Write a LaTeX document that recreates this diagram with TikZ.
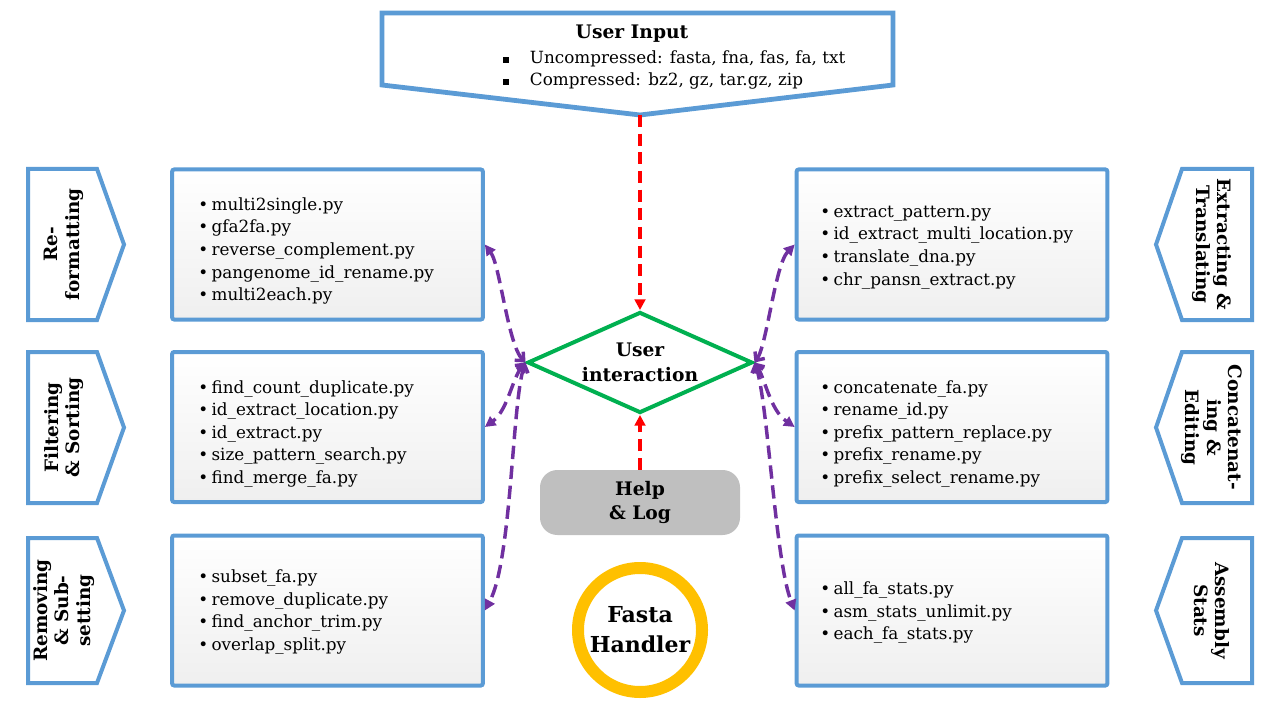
\documentclass[tikz,border=0pt]{standalone}
\usepackage{fontspec}
\setmainfont{DejaVu Serif}
\usetikzlibrary{shapes.geometric,arrows.meta}

\definecolor{edgeblue}{HTML}{5B9BD5}
\definecolor{boxgray}{HTML}{EFEFEF}
\definecolor{dmgreen}{HTML}{00B050}
\definecolor{flowred}{HTML}{FF0000}
\definecolor{flowpurple}{HTML}{7030A0}
\definecolor{ringgold}{HTML}{FFC000}
\definecolor{helpgray}{HTML}{BFBFBF}

\newcommand{\scriptitem}[1]{\makebox[10pt][l]{\textbullet}#1}
\newcommand{\squareitem}[1]{\makebox[20pt][l]{\rule[0.5pt]{4.5pt}{4.5pt}}#1}

\begin{document}
\begin{tikzpicture}[x=0.75pt,y=-0.75pt,
  scriptbox/.style={draw=edgeblue, line width=3pt, rounded corners=1.5pt,
    top color=white, bottom color=boxgray,
    minimum width=233pt, minimum height=112.5pt, inner sep=0pt},
  listtext/.style={anchor=west, align=left, inner sep=0pt,
    font=\fontsize{12.6}{16.9}\selectfont},
  tagshape/.style={draw=edgeblue, line width=3pt, fill=white, line join=miter},
  tagtext/.style={align=center, inner sep=0pt,
    font=\fontsize{13.8}{16}\selectfont\bfseries},
  redflow/.style={draw=flowred, line width=3pt, dash pattern=on 9pt off 5pt,
    -{Triangle[length=8pt,width=8pt]}},
  purpleflow/.style={draw=flowpurple, line width=2.6pt, dash pattern=on 10pt off 5pt,
    {Straight Barb[length=5pt,width=9pt]}-{Triangle[length=8pt,width=8pt]}},
  boldtext/.style={align=center, inner sep=0pt,
    font=\fontsize{14}{18.5}\selectfont\bfseries}
]
\useasboundingbox (0,0) rectangle (1280,720);

% input block: a downward pointing banner
\draw[draw=edgeblue, line width=3.6pt, fill=white, line join=miter]
  (382,13) -- (893,13) -- (893,85) -- (640,115) -- (382,85) -- cycle;
\coordinate (uiapex) at (640,115);
\node[boldtext] (uititle) at (632,34) {User Input};
\node[listtext, font=\fontsize{12.6}{16.5}\selectfont] (uilist) at (503,70)
  {\squareitem{Uncompressed: fasta, fna, fas, fa, txt}\\
   \squareitem{Compressed: bz2, gz, tar.gz, zip}};

% central decision
\node[diamond, aspect=2.2, draw=dmgreen, line width=3pt, inner sep=0pt,
  minimum width=168.75pt, minimum height=75.75pt, boldtext] (dm) at (640,362.5)
  {User\\interaction};

% help and logging
\node[fill=helpgray, rounded corners=13pt, minimum width=150pt,
  minimum height=48.75pt, boldtext] (help) at (640,502.5) {Help\\\& Log};

% title ring
\node[circle, draw=ringgold, line width=9pt, minimum size=93pt, inner sep=0pt,
  align=center, font=\fontsize{16.5}{22.5}\selectfont\bfseries] (fh) at (640,630)
  {Fasta\\Handler};

% script boxes, left column
\node[scriptbox] (l1) at (327.5,244.5) {};
\node[scriptbox] (l2) at (327.5,427) {};
\node[scriptbox] (l3) at (327.5,610.5) {};
% script boxes, right column
\node[scriptbox] (r1) at (952,244.5) {};
\node[scriptbox] (r2) at (952,427) {};
\node[scriptbox] (r3) at (952,610.5) {};

\node[listtext] (l1t) at (198,251)
  {\scriptitem{multi2single.py}\\
   \scriptitem{gfa2fa.py}\\
   \scriptitem{reverse\_complement.py}\\
   \scriptitem{pangenome\_id\_rename.py}\\
   \scriptitem{multi2each.py}};
\node[listtext] (l2t) at (198,434)
  {\scriptitem{find\_count\_duplicate.py}\\
   \scriptitem{id\_extract\_location.py}\\
   \scriptitem{id\_extract.py}\\
   \scriptitem{size\_pattern\_search.py}\\
   \scriptitem{find\_merge\_fa.py}};
\node[listtext] (l3t) at (198,612)
  {\scriptitem{subset\_fa.py}\\
   \scriptitem{remove\_duplicate.py}\\
   \scriptitem{find\_anchor\_trim.py}\\
   \scriptitem{overlap\_split.py}};
\node[listtext] (r1t) at (820,247.5)
  {\scriptitem{extract\_pattern.py}\\
   \scriptitem{id\_extract\_multi\_location.py}\\
   \scriptitem{translate\_dna.py}\\
   \scriptitem{chr\_pansn\_extract.py}};
\node[listtext] (r2t) at (820,434)
  {\scriptitem{concatenate\_fa.py}\\
   \scriptitem{rename\_id.py}\\
   \scriptitem{prefix\_pattern\_replace.py}\\
   \scriptitem{prefix\_rename.py}\\
   \scriptitem{prefix\_select\_rename.py}};
\node[listtext] (r3t) at (820,613)
  {\scriptitem{all\_fa\_stats.py}\\
   \scriptitem{asm\_stats\_unlimit.py}\\
   \scriptitem{each\_fa\_stats.py}};

% category tags, left (pointing right)
\draw[tagshape] (28,169) -- (97,169) -- (124,244.5) -- (97,320) -- (28,320) -- cycle;
\draw[tagshape] (28,352) -- (97,352) -- (124,427.5) -- (97,503) -- (28,503) -- cycle;
\draw[tagshape] (28,538) -- (97,538) -- (124,610.5) -- (97,683) -- (28,683) -- cycle;
\node[tagtext, rotate=90] (lt1) at (64,244.5) {Re-\\formatting};
\node[tagtext, rotate=90] (lt2) at (64,427.5) {Filtering\\\& Sorting};
\node[tagtext, rotate=90] (lt3) at (64,610.5) {Removing\\\& Sub-\\setting};

% category tags, right (pointing left)
\draw[tagshape] (1252,169) -- (1182,169) -- (1156,244.5) -- (1182,320) -- (1252,320) -- cycle;
\draw[tagshape] (1252,352) -- (1182,352) -- (1156,427.5) -- (1182,503) -- (1252,503) -- cycle;
\draw[tagshape] (1252,538) -- (1182,538) -- (1156,610.5) -- (1182,683) -- (1252,683) -- cycle;
\node[tagtext, rotate=-90] (rt1) at (1212,244.5) {Extracting \&\\Translating};
\node[tagtext, rotate=-90] (rt2) at (1212,427.5) {Concatenat-\\ing \&\\Editing};
\node[tagtext, rotate=-90] (rt3) at (1212,610.5) {Assembly\\Stats};

% main flow
\draw[redflow] (uiapex) -- (dm.north);
\draw[redflow] (help.north) -- (dm.south);

% links between the decision and the script groups
\draw[purpleflow] (dm.west) .. controls (508,345) and (500,265) .. (l1.east);
\draw[purpleflow] (dm.west) .. controls (512,378) and (508,410) .. (l2.east);
\draw[purpleflow] (dm.west) .. controls (512,400) and (512,560) .. (l3.east);
\draw[purpleflow] (dm.east) .. controls (767,345) and (775,265) .. (r1.west);
\draw[purpleflow] (dm.east) .. controls (765,378) and (770,410) .. (r2.west);
\draw[purpleflow] (dm.east) .. controls (768,400) and (775,560) .. (r3.west);
\end{tikzpicture}
\end{document}
